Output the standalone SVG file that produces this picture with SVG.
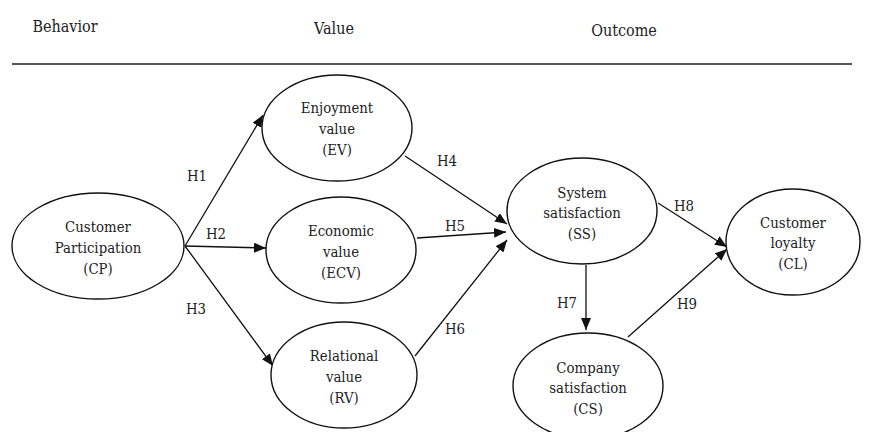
<svg xmlns="http://www.w3.org/2000/svg" width="870" height="432" viewBox="0 0 870 432">
<style>
text{font-family:'DejaVu Serif Condensed','DejaVu Serif',serif;font-stretch:condensed;font-size:14.8px;fill:#222;text-anchor:middle}
.hdr{font-size:16px}
ellipse{fill:#fff;stroke:#111;stroke-width:1.4}
.c line{stroke:#111;stroke-width:1.3}
</style>
<defs>
<marker id="ah" viewBox="0 0 12 10" refX="12" refY="5" markerWidth="12" markerHeight="10" markerUnits="userSpaceOnUse" orient="auto">
<path d="M0,0 L12,5 L0,10 Z" fill="#111"/>
</marker>
</defs>
<rect width="870" height="432" fill="#fff"/>
<g id="header">
<text class="hdr" x="65" y="32">Behavior</text>
<text class="hdr" x="334" y="34">Value</text>
<text class="hdr" x="624" y="36">Outcome</text>
<line x1="12" y1="64" x2="852" y2="64" stroke="#555" stroke-width="2"/>
</g>
<g class="c" id="connectors">
<line x1="185" y1="246" x2="263" y2="115" marker-end="url(#ah)"/>
<line x1="185" y1="246" x2="266" y2="248" marker-end="url(#ah)"/>
<line x1="185" y1="246" x2="273" y2="366" marker-end="url(#ah)"/>
<line x1="405" y1="156" x2="507" y2="224" marker-end="url(#ah)"/>
<line x1="417" y1="238" x2="506" y2="232" marker-end="url(#ah)"/>
<line x1="415" y1="356" x2="507" y2="240" marker-end="url(#ah)"/>
<line x1="586" y1="265" x2="586" y2="330" marker-end="url(#ah)"/>
<line x1="658" y1="203" x2="727" y2="247" marker-end="url(#ah)"/>
<line x1="628" y1="337" x2="727" y2="249" marker-end="url(#ah)"/>
<text x="197" y="181">H1</text>
<text x="216" y="239">H2</text>
<text x="196" y="314">H3</text>
<text x="447" y="166">H4</text>
<text x="455" y="231">H5</text>
<text x="455" y="334">H6</text>
<text x="567" y="308">H7</text>
<text x="684" y="211">H8</text>
<text x="687" y="309">H9</text>
</g>
<g id="CP">
<ellipse cx="98" cy="246" rx="86" ry="53"/>
<text x="98" y="232">Customer</text>
<text x="98" y="253">Participation</text>
<text x="98" y="274">(CP)</text>
</g>
<g id="EV">
<ellipse cx="337" cy="128" rx="75" ry="53"/>
<text x="337" y="113">Enjoyment</text>
<text x="337" y="134">value</text>
<text x="337" y="155">(EV)</text>
</g>
<g id="ECV">
<ellipse cx="341" cy="250" rx="75" ry="53"/>
<text x="341" y="236">Economic</text>
<text x="341" y="257">value</text>
<text x="341" y="278">(ECV)</text>
</g>
<g id="RV">
<ellipse cx="344" cy="375" rx="73" ry="53"/>
<text x="344" y="361">Relational</text>
<text x="344" y="382">value</text>
<text x="344" y="403">(RV)</text>
</g>
<g id="SS">
<ellipse cx="582" cy="211" rx="75" ry="53"/>
<text x="582" y="198">System</text>
<text x="582" y="218">satisfaction</text>
<text x="582" y="239">(SS)</text>
</g>
<g id="CS">
<ellipse cx="588" cy="386" rx="75" ry="53"/>
<text x="588" y="373">Company</text>
<text x="588" y="393">satisfaction</text>
<text x="588" y="414">(CS)</text>
</g>
<g id="CL">
<ellipse cx="793" cy="242" rx="67" ry="53"/>
<text x="793" y="228">Customer</text>
<text x="793" y="248">loyalty</text>
<text x="793" y="269">(CL)</text>
</g>
</svg>
